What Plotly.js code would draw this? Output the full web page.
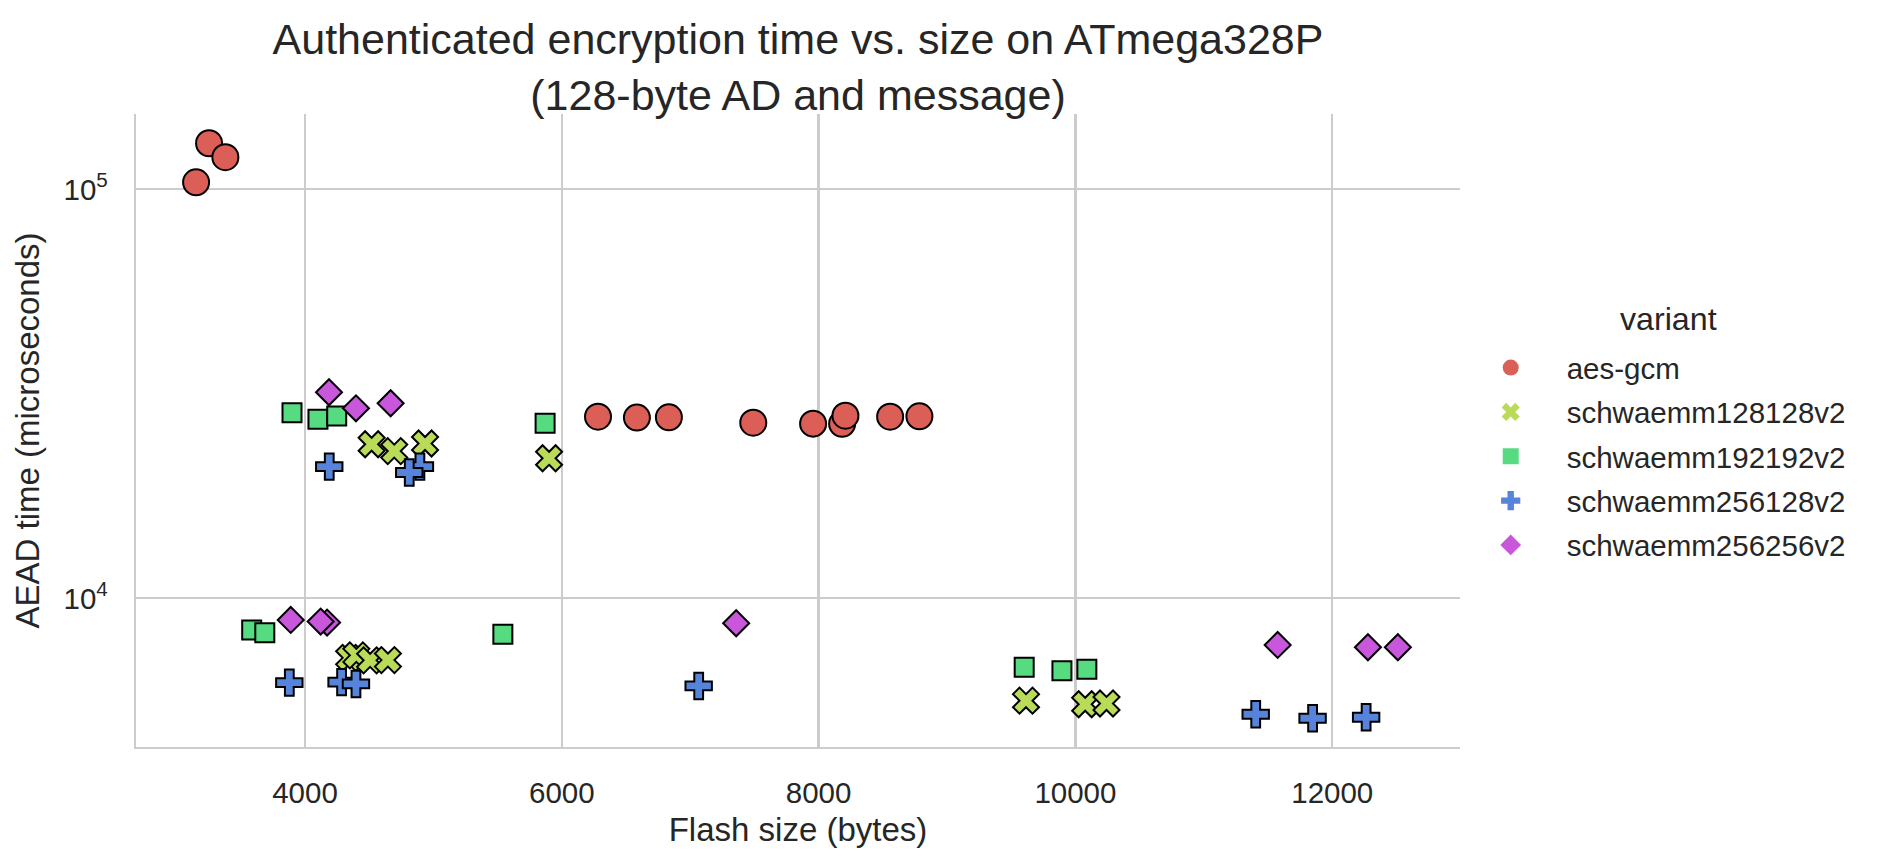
<!DOCTYPE html>
<html>
<head>
<meta charset="utf-8">
<script src="https://cdn.plot.ly/plotly-3.0.1.min.js"></script>
<style>
  html, body { margin: 0; padding: 0; background: #ffffff; }
  #chart { width: 1882px; height: 865px; }
</style>
</head>
<body>
<div id="chart"></div>
<script>
// ---- data ----
const variants = ["aes-gcm", "schwaemm128128v2", "schwaemm192192v2", "schwaemm256128v2", "schwaemm256256v2"];
const legendTitle = "variant";

const aesGcmFlash = [3253, 3380, 3152, 6282, 6585, 6834, 7491, 7957, 8183, 8209, 8557, 8785];
const aesGcmTime  = [129600, 119800, 104000, 27800, 27650, 27700, 26880, 26730, 26700, 27960, 27800, 27850];

const s128128Flash = [4519, 4695, 4935, 5901, 4344, 4400, 4507, 4646, 9615, 10076, 10242];
const s128128Time  = [23800, 22900, 23900, 21990, 7150, 7250, 7050, 7060, 5618, 5506, 5530];

const s192192Flash = [3899, 4101, 4247, 5870, 3585, 3687, 5541, 9601, 9895, 10089];
const s192192Time  = [28430, 27400, 27910, 26790, 8366, 8240, 8165, 6781, 6652, 6705];

const s256128Flash = [4189, 4895, 4812, 3878, 4285, 4397, 7066, 11404, 11847, 12264];
const s256128Time  = [20980, 20980, 20300, 6218, 6237, 6173, 6104, 5205, 5089, 5117];

const s256256Flash = [4187, 4397, 4667, 3889, 4172, 4122, 7358, 11575, 12278, 12511];
const s256256Time  = [31890, 29140, 29980, 8850, 8720, 8770, 8686, 7688, 7590, 7590];

const xTickVals = [4000, 6000, 8000, 10000, 12000];
const xTickText = ["4000", "6000", "8000", "10000", "12000"];
const yTickVals = [10000, 100000];
const yTickText = ["10<sup>4</sup>", "10<sup>5</sup>"];

// ---- styling ----
const colors  = ["#db5f57", "#b9db57", "#57db80", "#5784db", "#c957db"];
const symbols = ["circle", "x", "square", "cross", "diamond"];
const sizes   = [26, 23, 19, 22, 20];
const FONT = "Liberation Sans, Arial, Helvetica, sans-serif";
const TXT = "#262626";

const seriesX = [aesGcmFlash, s128128Flash, s192192Flash, s256128Flash, s256256Flash];
const seriesY = [aesGcmTime, s128128Time, s192192Time, s256128Time, s256256Time];

const traces = [];
variants.forEach((name, i) => {
  traces.push({
    type: "scatter", mode: "markers", name: name,
    x: seriesX[i], y: seriesY[i],
    showlegend: false, legendgroup: name,
    marker: { color: colors[i], symbol: symbols[i], size: sizes[i],
              line: { color: "#000000", width: 2 } },
    hoverinfo: "x+y+name"
  });
});
// legend entries (markers without edge, as in the reference legend)
variants.forEach((name, i) => {
  traces.push({
    type: "scatter", mode: "markers", name: name,
    x: [null], y: [null],
    showlegend: true, legendgroup: name,
    marker: { color: colors[i], symbol: symbols[i], size: 16, line: { width: 0 } },
    hoverinfo: "skip"
  });
});

const layout = {
  width: 1882, height: 865,
  paper_bgcolor: "#ffffff", plot_bgcolor: "#ffffff",
  margin: { l: 136, r: 422, t: 114, b: 118, autoexpand: false },
  font: { family: FONT, color: TXT, size: 29.5 },
  title: {
    text: "Authenticated encryption time vs. size on ATmega328P<br>(128-byte AD and message)",
    font: { family: FONT, size: 43, color: TXT },
    x: 0.5, xref: "paper", xanchor: "center",
    y: 0.938, yref: "container", yanchor: "top"
  },
  xaxis: {
    type: "linear", range: [2684, 12995],
    tickmode: "array", tickvals: xTickVals, ticktext: xTickText,
    ticks: "", ticklabelstandoff: 18,
    tickfont: { family: FONT, size: 29.5, color: TXT },
    showgrid: true, gridcolor: "#cccccc", gridwidth: 2.3,
    showline: true, linecolor: "#cccccc", linewidth: 2.3, mirror: false,
    zeroline: false,
    title: { text: "Flash size (bytes)", font: { family: FONT, size: 33, color: TXT }, standoff: 10 }
  },
  yaxis: {
    type: "log", range: [Math.log10(4328), Math.log10(152800)],
    tickmode: "array", tickvals: yTickVals, ticktext: yTickText,
    ticks: "", ticklabelstandoff: 20,
    tickfont: { family: FONT, size: 29.5, color: TXT },
    showgrid: true, gridcolor: "#cccccc", gridwidth: 2.3,
    showline: true, linecolor: "#cccccc", linewidth: 2.3, mirror: false,
    zeroline: false,
    title: { text: "AEAD time (microseconds)", font: { family: FONT, size: 33, color: TXT }, standoff: 14 }
  },
  legend: {
    x: 0.996, xref: "paper", xanchor: "left",
    y: 0.640, yref: "paper", yanchor: "top",
    bgcolor: "rgba(0,0,0,0)", borderwidth: 0,
    itemwidth: 102, tracegroupgap: 3, traceorder: "grouped",
    font: { family: FONT, size: 29.5, color: TXT }
  },
  annotations: [{
    text: legendTitle, showarrow: false,
    xref: "paper", yref: "paper",
    x: (1668 - 136) / 1324, y: 1 - (319 - 114) / 633,
    xanchor: "center", yanchor: "middle",
    font: { family: FONT, size: 32.2, color: TXT }
  }],
  showlegend: true
};

Plotly.newPlot("chart", traces, layout, { displayModeBar: false, staticPlot: true });
</script>
</body>
</html>
